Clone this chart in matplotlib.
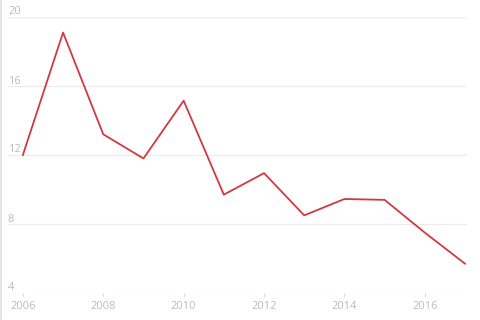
import matplotlib
matplotlib.use("Agg")
import matplotlib.pyplot as plt
from matplotlib.lines import Line2D

years = [2006, 2007, 2008, 2009, 2010, 2011, 2012, 2013, 2014, 2015, 2016, 2017]
values = [12.0, 19.1, 13.2, 11.8, 15.15, 9.7, 10.95, 8.5, 9.45, 9.4, 7.5, 5.7]
y_ticks = [4, 8, 12, 16, 20]
x_ticks = [2006, 2008, 2010, 2012, 2014, 2016]

plt.rcParams['font.family'] = ['Open Sans', 'DejaVu Sans']

fig = plt.figure(figsize=(4.8, 3.2), dpi=100)
ax = fig.add_axes([8 / 480, 1 - 293 / 320, 459 / 480, 276 / 320])

ax.plot(years, values, color='#d0393f', lw=1.3, zorder=3)

ax.set_xlim(2005.63, 2017.05)
ax.set_ylim(4, 20)

# horizontal gridlines, labels sit just above them at the left
for t in y_ticks:
    ax.axhline(t, color='#ebebeb' if t != 4 else '#dddddd', lw=0.8, zorder=1)
    ax.annotate(str(t), xy=(0, t), xycoords=('axes fraction', 'data'),
                xytext=(0, 1.8), textcoords='offset points',
                ha='left', va='baseline', fontsize=8, color='#bbbbbb')

ax.set_yticks([])
ax.set_xticks(x_ticks)
ax.set_xticklabels([str(x) for x in x_ticks], fontsize=8, color='#bbbbbb')
ax.tick_params(axis='x', length=3, color='#dddddd', pad=3)

for s in ax.spines.values():
    s.set_visible(False)

# thin grey rule down the left edge
fig.add_artist(Line2D([0.002, 0.002], [0, 1], color='#e0e0e0', lw=1.2,
                      transform=fig.transFigure))

fig.savefig("out.png", dpi=100)
